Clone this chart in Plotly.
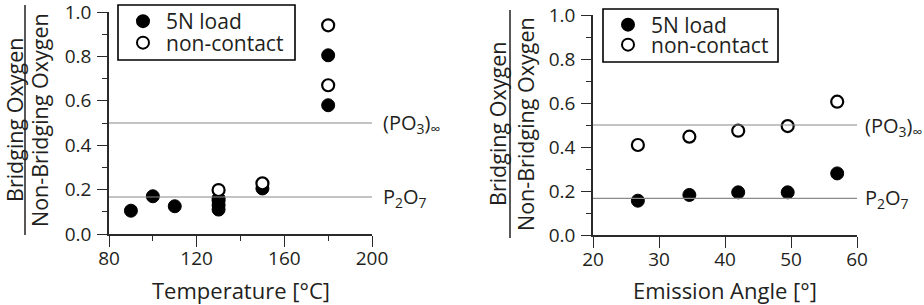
import plotly.graph_objects as go

# ---- data ----
temp_load = [90, 100, 110, 130, 130, 130, 130, 150, 180, 180]
ratio_load_t = [0.105, 0.17, 0.125, 0.11, 0.13, 0.15, 0.16, 0.205, 0.805, 0.58]
temp_nc = [130, 150, 180, 180]
ratio_nc_t = [0.198, 0.228, 0.94, 0.67]

angle = [26.8, 34.6, 42.0, 49.5, 57.0]
ratio_load_a = [0.156, 0.182, 0.194, 0.194, 0.28]
ratio_nc_a = [0.409, 0.447, 0.474, 0.495, 0.606]

ref_values = [0.5, 1 / 6]
ref_labels = ["(PO<sub>3</sub>)<sub>∞</sub>", "P<sub>2</sub>O<sub>7</sub>"]

x1_range = [80, 200]
x2_range = [20, 60]
x1_ticks = [80, 120, 160, 200]
x1_minor = [100, 140, 180]
x2_ticks = [20, 30, 40, 50, 60]
y_ticks = [0, 0.2, 0.4, 0.6, 0.8, 1.0]
y_minor = [0.1, 0.3, 0.5, 0.7, 0.9]
series_names = ["5N load", "non-contact"]
x_titles = ["Temperature [°C]", "Emission Angle [°]"]
y_title_top = "Bridging Oxygen"
y_title_bottom = "Non-Bridging Oxygen"

FONT = "Open Sans"
TXT = "#231f20"
AX = "#2a2a2a"
FS_TICK = 19
FS_TITLE = 22
FS_YTITLE = 21.5
FS_LEG = 21
FS_REF = 20

W, H = 924, 305

fig = go.Figure()

mk_fill = dict(size=13, color="black", line=dict(color="black", width=1))
mk_open = dict(size=12, color="white", line=dict(color="black", width=2.2))

fig.add_trace(go.Scatter(x=temp_load, y=ratio_load_t, mode="markers", marker=mk_fill,
                         name=series_names[0], xaxis="x", yaxis="y", legend="legend"))
fig.add_trace(go.Scatter(x=temp_nc, y=ratio_nc_t, mode="markers", marker=mk_open,
                         name=series_names[1], xaxis="x", yaxis="y", legend="legend2"))
fig.add_trace(go.Scatter(x=angle, y=ratio_load_a, mode="markers", marker=mk_fill,
                         name=series_names[0], xaxis="x2", yaxis="y2", legend="legend3"))
fig.add_trace(go.Scatter(x=angle, y=ratio_nc_a, mode="markers", marker=mk_open,
                         name=series_names[1], xaxis="x2", yaxis="y2", legend="legend4"))

# reference lines
for xr, xa, ya in [(x1_range, "x", "y"), (x2_range, "x2", "y2")]:
    for v in ref_values:
        fig.add_trace(go.Scatter(x=xr, y=[v, v], mode="lines", showlegend=False,
                                 line=dict(color="#8a8a8a", width=1.2), cliponaxis=False,
                                 xaxis=xa, yaxis=ya, hoverinfo="skip"))

# domains in pixels
L1 = (109, 372); L2 = (593, 857)
Y1 = (12, 234); Y2 = (15, 235)


def dx(a, b):
    return [a / W, b / W]


def dy(top, bot):
    return [(H - bot) / H, (H - top) / H]


def px(v):
    return v / W


def py(v):
    return (H - v) / H


axis_common = dict(showline=True, linecolor=AX, linewidth=1.6, ticks="outside",
                   tickcolor=AX, tickwidth=1.4, showgrid=False, zeroline=False,
                   automargin=False, ticklabeloverflow="allow",
                   tickfont=dict(family=FONT, size=FS_TICK, color=TXT))
minor_common = dict(ticklen=5, ticks="outside", tickcolor=AX, tickwidth=1.4, showgrid=False)

leg_common = dict(xanchor="left", yanchor="middle", borderwidth=0,
                  bgcolor="rgba(0,0,0,0)", font=dict(family=FONT, size=FS_LEG, color=TXT),
                  tracegroupgap=0, itemsizing="constant", itemwidth=36)

fig.update_layout(
    template="none",
    width=W, height=H, margin=dict(l=0, r=0, t=0, b=0, autoexpand=False),
    paper_bgcolor="white", plot_bgcolor="white",
    font=dict(family=FONT, size=FS_TICK, color=TXT),
    xaxis=dict(domain=dx(*L1), range=x1_range, tickvals=x1_ticks, ticklen=11, ticklabelstandoff=-5,
               minor=dict(tickvals=x1_minor, **minor_common), anchor="y", **axis_common),
    yaxis=dict(domain=dy(*Y1), range=[0, 1.0], tickvals=y_ticks, tickformat=".1f", ticklen=10,
               ticklabelstandoff=2,
               minor=dict(tickvals=y_minor, **minor_common), anchor="x", **axis_common),
    xaxis2=dict(domain=dx(*L2), range=x2_range, tickvals=x2_ticks, ticklen=11, ticklabelstandoff=-5,
                anchor="y2", **axis_common),
    yaxis2=dict(domain=dy(*Y2), range=[0, 1.0], tickvals=y_ticks, tickformat=".1f", ticklen=10,
                ticklabelstandoff=2,
                minor=dict(tickvals=y_minor, **minor_common), anchor="x2", **axis_common),
    legend=dict(x=px(120), y=py(21.5), **leg_common),
    legend2=dict(x=px(120), y=py(43), **leg_common),
    legend3=dict(x=px(605), y=py(25), **leg_common),
    legend4=dict(x=px(605), y=py(45), **leg_common),
    showlegend=True,
)

ann = []
shapes = []
# legend boxes
for (x0, y0, x1, y1) in [(118, 5, 295, 60), (603, 9, 778, 62)]:
    shapes.append(dict(type="rect", xref="paper", yref="paper", x0=px(x0), x1=px(x1),
                       y0=py(y1), y1=py(y0), line=dict(color="black", width=1.6),
                       fillcolor="rgba(0,0,0,0)", layer="above"))

# x-axis titles
for (a, b), t in zip([L1, L2], x_titles):
    ann.append(dict(x=(a + b) / 2 / W, y=py(290), xref="paper", yref="paper", text=t,
                    showarrow=False, xanchor="center", yanchor="middle",
                    font=dict(family=FONT, size=FS_TITLE, color=TXT)))

# y-axis titles as fractions
for (xb, xl, xn, ytop, ybot) in [(14, 25, 39, 5, 235), (497, 510, 525, 10, 238)]:
    yc = (ytop + ybot) / 2
    ann.append(dict(x=px(xb), y=py(yc), xref="paper", yref="paper", text=y_title_top,
                    textangle=-90, showarrow=False, xanchor="center", yanchor="middle",
                    font=dict(family=FONT, size=FS_YTITLE, color=TXT)))
    ann.append(dict(x=px(xn), y=py(yc), xref="paper", yref="paper", text=y_title_bottom,
                    textangle=-90, showarrow=False, xanchor="center", yanchor="middle",
                    font=dict(family=FONT, size=FS_YTITLE, color=TXT)))
    shapes.append(dict(type="line", xref="paper", yref="paper", x0=px(xl), x1=px(xl),
                       y0=py(ybot), y1=py(ytop), line=dict(color=TXT, width=1.5)))

# reference labels
for xa, ya, xr, xs in [("x", "y", x1_range, 9), ("x2", "y2", x2_range, 6)]:
    for v, t, ys in zip(ref_values, ref_labels, [-1, 0]):
        ann.append(dict(x=xr[1], y=v, xref=xa, yref=ya, text=t, showarrow=False,
                        xanchor="left", yanchor="middle", xshift=xs, yshift=ys,
                        font=dict(family=FONT, size=FS_REF, color=TXT)))

fig.update_layout(annotations=ann, shapes=shapes)
fig.write_html("out.html")
